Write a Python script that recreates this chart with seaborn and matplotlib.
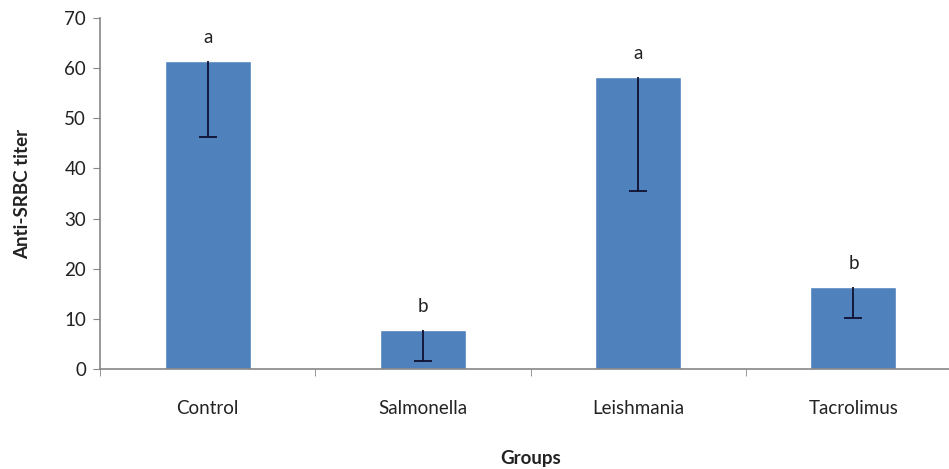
import matplotlib
matplotlib.use("Agg")
import matplotlib.pyplot as plt
import seaborn as sns
import numpy as np
import pandas as pd

# values
groups = ["Control", "Salmonella", "Leishmania", "Tacrolimus"]
titer = [61.4, 7.8, 58.2, 16.4]
err_low = [15.1, 6.2, 22.7, 6.2]
letters = ["a", "b", "a", "b"]

df = pd.DataFrame({"Groups": groups, "titer": titer})
df["low"] = df["titer"] - np.array(err_low)

sns.set_style("white")
plt.rcParams['font.family'] = ['Lato', 'DejaVu Sans']

fig = plt.figure(figsize=(9.49, 4.69), dpi=100)
ax = fig.add_axes([100 / 949, 100 / 469, 861 / 949, 351 / 469])

sns.barplot(data=df, x="Groups", y="titer", color="#4F81BD", saturation=1,
            width=0.4, errorbar=None, ax=ax)

# only the minus side of the error bar is drawn (no cap at the top)
x = np.arange(len(groups))
ax.vlines(x, df["low"], df["titer"], color="#101030", linewidth=1.3)
ax.plot(x, df["low"], linestyle="none", marker="_", markersize=13,
        markeredgewidth=1.3, color="#101030")

for xi, v, lab in zip(x, titer, letters):
    ax.text(xi, v + 4.7, lab, ha="center", va="center", fontsize=13.5, color="#222222")

ax.set_xlim(-0.5, len(groups) - 0.5)
ax.set_ylim(0, 70)
ax.set_yticks(range(0, 71, 10))
ax.set_xticks(np.arange(-0.5, len(groups), 1), minor=True)
ax.tick_params(axis="x", which="major", length=0, pad=22, labelsize=13.5, labelcolor="#222222")
ax.tick_params(axis="x", which="minor", length=5, color="#868686", direction="out", bottom=True)
ax.tick_params(axis="y", length=5, color="#868686", direction="out", labelsize=13.5,
               labelcolor="#222222", pad=5, left=True)

for s in ["top", "right"]:
    ax.spines[s].set_visible(False)
for s in ["left", "bottom"]:
    ax.spines[s].set_color("#868686")
    ax.spines[s].set_linewidth(1.2)

ax.set_xlabel("Groups", fontsize=13.5, fontweight="bold", labelpad=24, color="#222222")
ax.set_ylabel("Anti-SRBC titer", fontsize=13.5, fontweight="bold", labelpad=24, color="#222222")

plt.savefig("out.png", dpi=100)
